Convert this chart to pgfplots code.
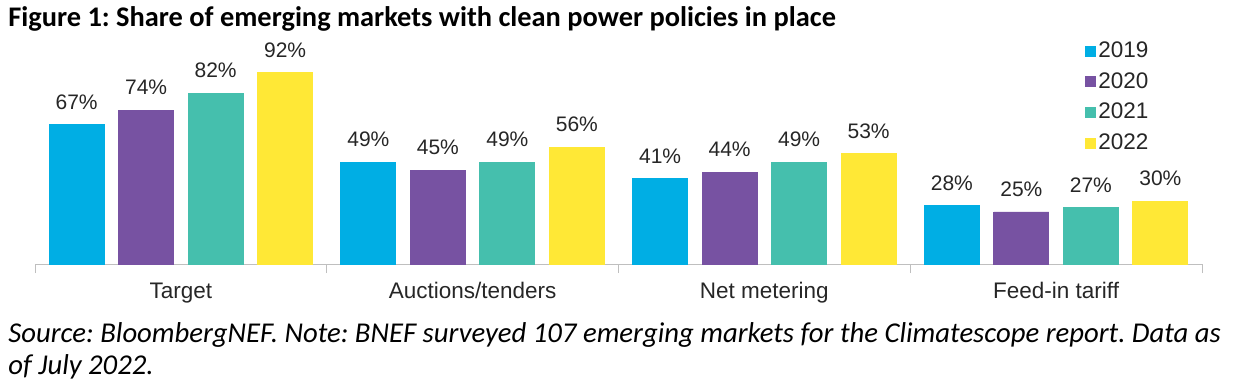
\documentclass[border=0pt]{standalone}
\usepackage{fontspec}
\setmainfont{Carlito}
\newfontfamily\arial{Liberation Sans}
\usepackage{pgfplots}
\pgfplotsset{compat=1.18}
\definecolor{c19}{RGB}{0,174,228}
\definecolor{c20}{RGB}{119,82,162}
\definecolor{c21}{RGB}{69,191,173}
\definecolor{c22}{RGB}{255,232,54}
\definecolor{axgray}{RGB}{191,191,191}
\pgfplotsset{sq legend/.style={legend image code/.code={\fill[##1,draw=none] (0pt,-2.75pt) rectangle (5.5pt,2.75pt);}}}
\frenchspacing
\begin{document}
\begin{tikzpicture}
\path[use as bounding box] (0,0) rectangle (617pt,-194.5pt);
\node[anchor=base west,inner sep=0pt,font=\bfseries\fontsize{14.2}{17}\selectfont] at (4pt,-13.3pt) {Figure 1: Share of emerging markets with clean power policies in place};
\node[anchor=base west,inner sep=0pt,font=\itshape\fontsize{14.35}{17}\selectfont] at (4pt,-171.3pt) {Source: BloombergNEF. Note: BNEF surveyed 107 emerging markets for the Climatescope report. Data as};
\node[anchor=base west,inner sep=0pt,font=\itshape\fontsize{14.35}{17}\selectfont] at (4pt,-187pt) {of July 2022.};
\begin{axis}[
  at={(17.5pt,-132pt)}, anchor=south west,
  scale only axis, width=583.5pt, height=104pt,
  xmin=-0.5, xmax=3.5, ymin=0, ymax=100,
  ybar=7.25pt, bar width=27.5pt,
  axis x line*=bottom, axis y line=none,
  x axis line style={-, draw=axgray},
  xtick={0,1,2,3},
  xticklabels={Target,Auctions/tenders,Net metering,Feed-in tariff},
  major tick length=0pt,
  minor xtick={-0.5,0.5,1.5,2.5,3.5},
  minor tick length=4.5pt,
  tick align=outside,
  every tick/.style={draw=axgray},
  xticklabel style={font=\arial\fontsize{11.25}{13}\selectfont, anchor=base, yshift=-17pt, text=black!85},
  clip=false,
  /pgf/number format/assume math mode=true,
  nodes near coords={\pgfmathprintnumber{\pgfplotspointmeta}\%},
  every node near coord/.append style={font=\arial\fontsize{10.5}{12}\selectfont, text=black!85, anchor=south, inner sep=0pt, yshift=7.5pt},
  legend style={at={(0.8997,1.08)}, anchor=north west, draw=none, fill=none, inner sep=0pt,
    font=\arial\fontsize{11.25}{13}\selectfont, row sep=4pt, text=black!85,
    nodes={inner sep=1pt}},
  legend cell align=left,
]
\addplot[fill=c19, draw=c19, sq legend] coordinates {(0,67) (1,49) (2,41) (3,28)};
\addplot[fill=c20, draw=c20, sq legend] coordinates {(0,74) (1,45) (2,44) (3,25)};
\addplot[fill=c21, draw=c21, sq legend] coordinates {(0,82) (1,49) (2,49) (3,27)};
\addplot[fill=c22, draw=c22, sq legend] coordinates {(0,92) (1,56) (2,53) (3,30)};
\legend{2019,2020,2021,2022}
\end{axis}
\end{tikzpicture}
\end{document}
